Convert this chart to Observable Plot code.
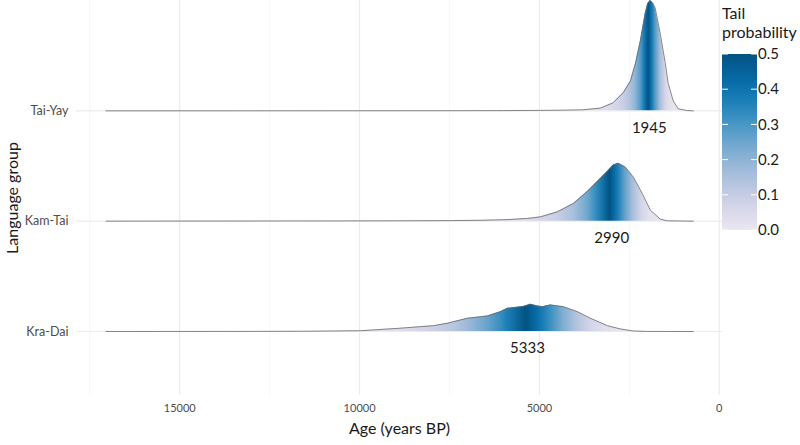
<!DOCTYPE html>
<html><head><meta charset="utf-8">
<script src="https://cdn.jsdelivr.net/npm/d3@7"></script>
<script src="https://cdn.jsdelivr.net/npm/@observablehq/plot@0.6"></script>
<style>
body{margin:0;background:#fff;}
</style></head><body><div id="chart"></div>
<script>
const FONT = "Lato, 'Open Sans', sans-serif";
const groups = ["Kra-Dai", "Kam-Tai", "Tai-Yay"]; // bottom to top
const medianLabels = [5333, 2990, 1945];
const xTicks = [15000, 10000, 5000, 0];
const xMinorTicks = [17500, 12500, 7500, 2500];
const legendTicks = [0, 0.1, 0.2, 0.3, 0.4, 0.5];

// Ages (years BP) and relative density heights
const kraDaiAge = [17050, 13028, 11639, 10722, 9972, 8861, 7944, 7556, 7389, 7000, 6444, 6083, 5889, 5444, 5250, 5056, 4917, 4694, 4333, 3944, 3583, 3111, 2750, 2389, 2000, 722];
const kraDaiDensity = [0, 0.001, 0.002, 0.0045, 0.007, 0.03, 0.053, 0.075, 0.089, 0.12, 0.141, 0.18, 0.21, 0.227, 0.247, 0.232, 0.225, 0.241, 0.225, 0.18, 0.12, 0.053, 0.023, 0.0045, 0.0005, 0];

const kamTaiAge = [17050, 14000, 11000, 9000, 7500, 6600, 5900, 5333, 4972, 4500, 4056, 3667, 3389, 3111, 2944, 2806, 2611, 2389, 2139, 1917, 1639, 1444, 722];
const kamTaiDensity = [0, 0.001, 0.002, 0.003, 0.005, 0.008, 0.014, 0.025, 0.039, 0.085, 0.16, 0.27, 0.36, 0.45, 0.51, 0.525, 0.49, 0.40, 0.25, 0.10, 0.018, 0.003, 0];

const taiYayAge = [17050, 12000, 8000, 6000, 5000, 4300, 3800, 3300, 2950, 2670, 2470, 2330, 2190, 2060, 1990, 1920, 1850, 1780, 1640, 1500, 1420, 1280, 1140, 900, 720];
const taiYayDensity = [0, 0.0005, 0.001, 0.002, 0.004, 0.006, 0.009, 0.025, 0.073, 0.165, 0.27, 0.43, 0.64, 0.88, 0.97, 1.0, 0.98, 0.93, 0.70, 0.43, 0.25, 0.09, 0.018, 0.003, 0];

const ages = [kraDaiAge, kamTaiAge, taiYayAge];
const dens = [kraDaiDensity, kamTaiDensity, taiYayDensity];

// Build rows with tail probability from cumulative density
const series = groups.map((g, i) => {
  const pts = ages[i].map((a, j) => ({age: a, d: dens[i][j]})).sort((p, q) => p.age - q.age);
  const cum = [0];
  for (let j = 1; j < pts.length; j++) {
    cum.push(cum[j - 1] + (pts[j].age - pts[j - 1].age) * (pts[j].d + pts[j - 1].d) / 2);
  }
  const total = cum[cum.length - 1];
  let median = null;
  pts.forEach((p, j) => {
    p.F = cum[j] / total;
    p.tail = Math.min(p.F, 1 - p.F);
    p.group = g; p.base = i + 1; p.y = i + 1 + p.d;
    if (median === null && j > 0 && pts[j - 1].F < 0.5 && p.F >= 0.5) {
      const f0 = pts[j - 1].F;
      median = pts[j - 1].age + (0.5 - f0) / (p.F - f0) * (p.age - pts[j - 1].age);
    }
  });
  return {group: g, rows: pts, median};
});
const allRows = series.flatMap(s => s.rows);
const labelRows = groups.map((g, i) => ({age: medianLabels[i], base: i + 1, text: String(medianLabels[i])}));

const plot = Plot.plot({
  width: 800, height: 445,
  marginTop: 0, marginBottom: 50, marginLeft: 76, marginRight: 78,
  style: {fontFamily: FONT, background: "white", overflow: "visible"},
  x: {domain: [17870, -90]},
  y: {domain: [0.42, 4.0]},
  color: {type: "linear", domain: [0, 0.5], interpolate: t => d3.interpolatePuBu(0.125 + 0.775 * t)},
  marks: [
    Plot.ruleX(xMinorTicks, {stroke: "#f2f2f2", strokeWidth: 0.7}),
    Plot.ruleX(xTicks, {stroke: "#ebebeb", strokeWidth: 1.1}),
    Plot.ruleY([1, 2, 3], {stroke: "#ebebeb", strokeWidth: 1.1}),
    Plot.dot(allRows, {x: "age", y: "y", fill: "tail", r: 1, fillOpacity: 0}),
    ...series.map((s, i) => Plot.area(s.rows, {x1: "age", y1: "base", y2: "y", fill: `url(#ridge-grad-${i})`})),
    ...series.map(s => Plot.line(s.rows, {x: "age", y: "y", stroke: "#6a6a6a", strokeWidth: 0.8})),
    Plot.text(labelRows, {x: "age", y: "base", text: "text", dy: 17, fontSize: 15, fill: "#1a1a1a"}),
    Plot.axisX(xTicks, {tickSize: 0, tickPadding: 9, tickFormat: d3.format("d"), fontSize: 11, color: "#4d4d4d", label: null}),
    Plot.axisY([1, 2, 3], {tickSize: 0, tickPadding: 8, tickFormat: d => groups[d - 1], fontSize: 12.5, color: "#4d4d4d", label: null}),
    Plot.text(["Age (years BP)"], {text: d => d, frameAnchor: "bottom", dy: 38, fontSize: 16, fill: "#1a1a1a"}),
    Plot.text(["Language group"], {text: d => d, frameAnchor: "left", textAnchor: "middle", dx: -64, rotate: -90, fontSize: 16, fill: "#1a1a1a"})
  ]
});

const svg = d3.select(plot);
const xs = plot.scale("x"), cs = plot.scale("color");
const W = 800;
const defs = svg.insert("defs", ":first-child");
series.forEach((s, i) => {
  const lg = defs.append("linearGradient").attr("id", `ridge-grad-${i}`)
    .attr("gradientUnits", "userSpaceOnUse").attr("x1", 0).attr("x2", W).attr("y1", 0).attr("y2", 0);
  const stops = s.rows.map(r => ({o: xs.apply(r.age) / W, c: cs.apply(r.tail)}));
  if (s.median !== null) stops.push({o: xs.apply(s.median) / W, c: cs.apply(0.5)});
  stops.sort((a, b) => a.o - b.o).forEach(st => lg.append("stop").attr("offset", st.o).attr("stop-color", st.c));
});

// Vertical colorbar legend
const barX = 722, barW = 35, barTop = 54, barBot = 230;
const ly = d3.scaleLinear().domain([0, 0.5]).range([barBot, barTop]);
const lgv = defs.append("linearGradient").attr("id", "legend-grad").attr("x1", 0).attr("x2", 0).attr("y1", 1).attr("y2", 0);
d3.range(0, 1.0001, 0.05).forEach(t => lgv.append("stop").attr("offset", t).attr("stop-color", cs.apply(t * 0.5)));
const leg = svg.append("g").attr("font-family", FONT).attr("text-anchor", "start");
leg.append("rect").attr("x", barX).attr("y", barTop).attr("width", barW).attr("height", barBot - barTop).attr("fill", "url(#legend-grad)");
legendTicks.forEach(v => {
  const y = ly(v);
  leg.append("line").attr("x1", barX).attr("x2", barX + 6).attr("y1", y).attr("y2", y).attr("stroke", "white").attr("stroke-width", 1);
  leg.append("line").attr("x1", barX + barW - 6).attr("x2", barX + barW).attr("y1", y).attr("y2", y).attr("stroke", "white").attr("stroke-width", 1);
  leg.append("text").attr("x", barX + barW + 1).attr("y", y).attr("dy", "0.35em").attr("font-size", 15).attr("fill", "#1a1a1a").text(v.toFixed(1));
});
leg.append("text").attr("x", barX).attr("y", 19).attr("font-size", 16).attr("fill", "#1a1a1a").text("Tail");
leg.append("text").attr("x", barX).attr("y", 38).attr("font-size", 16).attr("fill", "#1a1a1a").text("probability");

document.getElementById("chart").appendChild(plot);
</script>
</body></html>
